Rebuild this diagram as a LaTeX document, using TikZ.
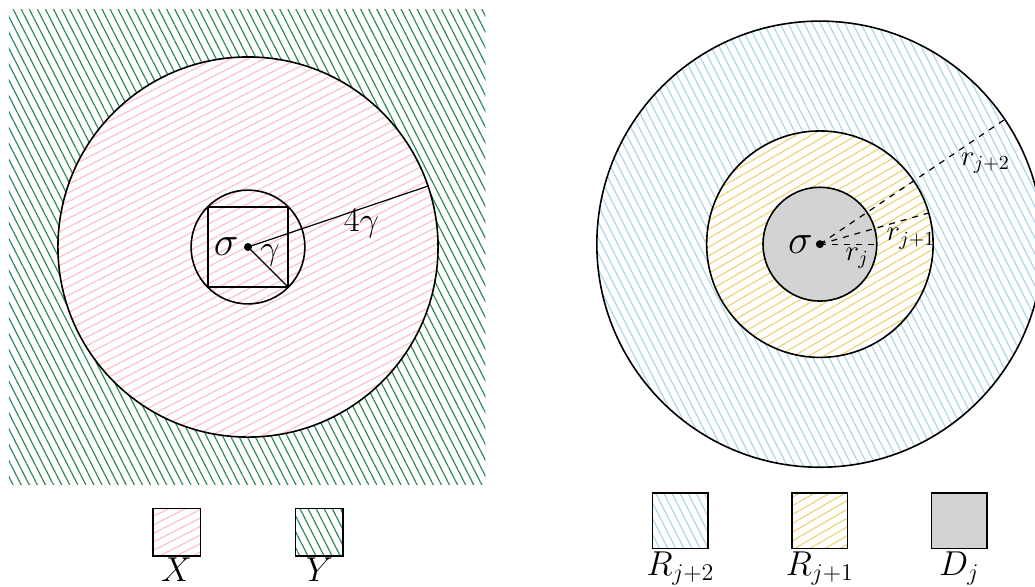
\documentclass[tikz,border=0pt]{standalone}
\usepackage{amssymb}
\usepackage{tikz}
\usetikzlibrary{positioning, calc, patterns.meta}

\definecolor{rosa}{RGB}{255,192,203}
\definecolor{verde}{RGB}{46,139,87}
\definecolor{azul}{RGB}{173,216,230}
\definecolor{amarelo}{RGB}{238,212,120}
\definecolor{cinza}{RGB}{211,211,211}

\begin{document}
\begin{tikzpicture}[node distance=2.45cm, on grid,
	hachX/.style={preaction={fill=white}, pattern={Lines[angle=27, distance=3.8pt, line width=0.6pt]}, pattern color=rosa},
	hachY/.style={pattern={Lines[angle=-63, distance=3.6pt, line width=0.6pt]}, pattern color=verde},
	hachRa/.style={preaction={fill=white}, pattern={Lines[angle=-63, distance=3.6pt, line width=0.6pt]}, pattern color=azul},
	hachRb/.style={preaction={fill=white}, pattern={Lines[angle=30, distance=3.8pt, line width=0.6pt]}, pattern color=amarelo},
	caixa/.style={draw, thick, minimum size=0.835cm, inner sep=0pt},
	caixaR/.style={caixa, minimum size=0.977cm},
	rotulo/.style={anchor=north, inner sep=1pt},
	ponto/.style={circle, fill, inner sep=0pt, minimum size=4pt},
	raio/.style={dashed, semithick}
	]
	\useasboundingbox (-4.358,-5.957) rectangle (13.830,4.341);
	
	%Figura da esquerda:
	\coordinate (sigmaA) at (0,0);
	\coordinate (cantoA) at (-0.707,-0.707);
	\coordinate (cantoB) at (0.707,0.707);
	\coordinate (cantoC) at (0.707,-0.707);
	\coordinate (bordaA) at (18.7:3.34);
	\fill[hachY] (-4.2,-4.18) rectangle (4.17,4.18);
	\draw[thick, hachX] (sigmaA) circle (3.34);
	\draw[thick] (sigmaA) circle (1);
	\draw[thick] (cantoA) rectangle (cantoB);
	\draw[semithick] (sigmaA) -- (bordaA) node[pos=0.63, below, inner sep=0pt] {\LARGE $4\gamma$};
	\draw[semithick] (sigmaA) -- (cantoC) node[pos=0.55, above, inner sep=1pt] {\LARGE $\gamma$};
	\node[ponto] (pA) at (sigmaA) {};
	\node[anchor=east, inner sep=0pt] (sA) at ($(pA)+(-0.16,0)$) {\huge $\sigma$};
	
	%Figura da direita:
	\coordinate (sigmaB) at (10.05,0.05);
	\coordinate (rj) at ($(sigmaB)+(0:1)$);
	\coordinate (rja) at ($(sigmaB)+(16:1.99)$);
	\coordinate (rjb) at ($(sigmaB)+(34:3.92)$);
	\draw[thick, hachRa] (sigmaB) circle (3.92);
	\draw[thick, hachRb] (sigmaB) circle (1.99);
	\draw[thick, fill=cinza] (sigmaB) circle (1);
	\draw[raio] (sigmaB) -- (rj) node[pos=0.39, anchor=north west, inner sep=1.5pt] {\Large $r_j$};
	\draw[raio] (sigmaB) -- (rja) node[pos=0.59, anchor=north west, inner sep=1pt] {\Large $r_{j+1}$};
	\draw[raio] (sigmaB) -- (rjb) node[pos=0.75, anchor=north west, inner sep=1pt] {\Large $r_{j+2}$};
	\node[ponto] (pB) at (sigmaB) {};
	\node[anchor=east, inner sep=0pt] (sB) at ($(pB)+(-0.12,0)$) {\huge $\sigma$};
	
	%Legendas:
	\node[caixa, hachX] (legX) at (-1.255,-5.01) {};
	\node[caixa, hachY, right=2.51cm of legX] (legY) {};
	\node[rotulo, inner sep=0.2pt] (nX) at (legX.south) {\LARGE $X$};
	\node[rotulo, inner sep=0.2pt] (nY) at (legY.south) {\LARGE $Y$};
	
	\node[caixaR, hachRb] (legRb) at (10.05,-4.806) {};
	\node[caixaR, hachRa, left=of legRb] (legRa) {};
	\node[caixaR, fill=cinza, right=of legRb] (legD) {};
	\node[rotulo] (nRa) at (legRa.south) {\LARGE $R_{j+2}$};
	\node[rotulo] (nRb) at (legRb.south) {\LARGE $R_{j+1}$};
	\node[rotulo] (nD) at (legD.south) {\LARGE $D_j$};
\end{tikzpicture}
\end{document}
